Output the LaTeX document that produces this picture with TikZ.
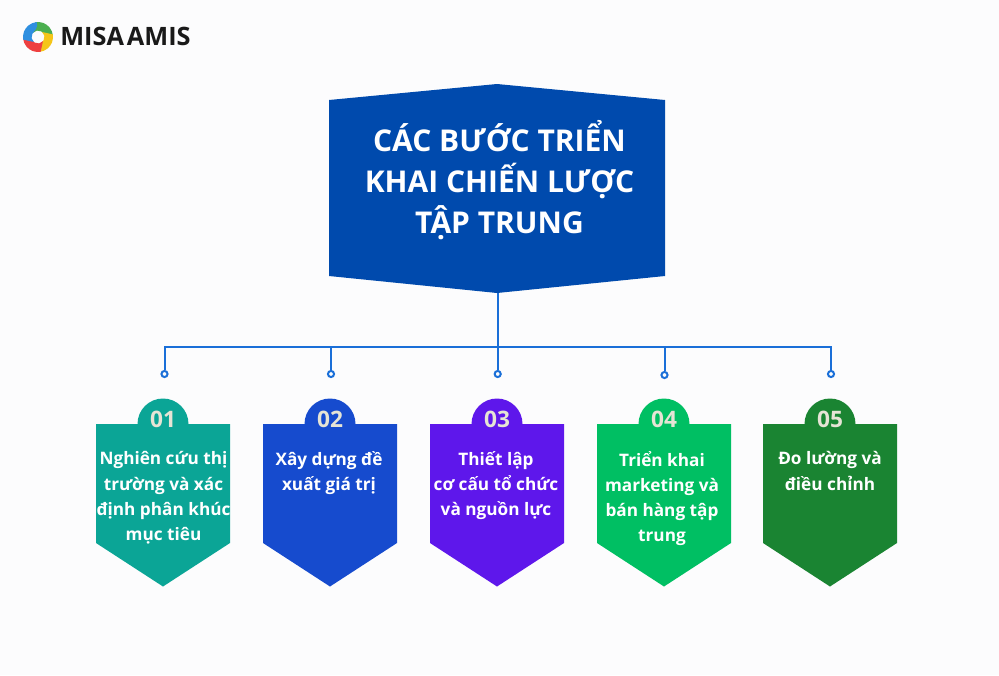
\documentclass[tikz,border=0pt]{standalone}
\usepackage{fontspec}
\setmainfont{Open Sans}
\usetikzlibrary{calc}
\definecolor{bgc}{HTML}{FCFCFD}
\definecolor{topc}{HTML}{004AAD}
\definecolor{linec}{HTML}{1A6FD8}
\definecolor{numc}{HTML}{E6E4D5}
\definecolor{ca}{HTML}{0BA596}
\definecolor{cb}{HTML}{164BCE}
\definecolor{cc}{HTML}{5E17EB}
\definecolor{cd}{HTML}{00BF63}
\definecolor{ce}{HTML}{1A8432}
\definecolor{lgreen}{HTML}{4CAF50}
\definecolor{lyellow}{HTML}{F5C518}
\definecolor{lred}{HTML}{EE4040}
\definecolor{lblue}{HTML}{2F8FE0}
\tikzset{
  x=0.75pt,y=-0.75pt,
  conn/.style={draw=linec,line width=1.5pt},
  dotn/.style={circle,draw=linec,line width=1.5pt,fill=bgc,minimum size=4.6pt,inner sep=0pt},
  titletext/.style={text=white,align=center,font=\fontsize{22.5pt}{30.7pt}\selectfont\bfseries},
  steptext/.style={text=white,align=center,anchor=north,inner sep=0pt,font=\fontsize{12.9pt}{18.8pt}\selectfont\bfseries},
  numtext/.style={text=numc,font=\fontsize{17pt}{18pt}\selectfont\bfseries},
}
% #1 centre x, #2 colour, #3 number, #4 text, #5 node id, #6 text centre x
\newcommand{\stepcard}[6]{%
  \fill[#2] (#1-67,424) -- (#1-25.5,424) arc[start angle=180,end angle=0,radius=19.125pt] -- (#1+67,424) -- (#1+67,543) -- (#1,586.5) -- (#1-67,543) -- cycle;
  \node[numtext] (num#5) at (#1,419.5) {#3};
  \node[steptext] (txt#5) at (#6,451.5) {#4};
}
\begin{document}
\begin{tikzpicture}
\useasboundingbox (0,0) rectangle (999,675);
\fill[bgc] (0,0) rectangle (999,675);
% logo
\begin{scope}[shift={(38,37)},x=0.75pt,y=0.75pt]
  \foreach \t/\c in {5/lgreen,-85/lyellow,-175/lred,95/lblue}{
    \fill[\c] (\t+95:15) arc[start angle=\t+95,end angle=\t,radius=15]
      .. controls (\t-10:10) and (\t+25:7) .. (\t+55:6.5)
      arc[start angle=\t+55,end angle=\t+135,radius=6.5] -- cycle;
  }
\end{scope}
\node[anchor=west,inner sep=0pt,font=\fontsize{19pt}{24pt}\selectfont\bfseries,text=black!90] (logotext) at (60,36.5) {MISA\hspace{2.2pt}AMIS};
% top shape
\fill[topc] (329,100) -- (497,84) -- (665,100) -- (665,276) -- (497,293) -- (329,276) -- cycle;
\coordinate (apex) at (498,293);
\node[titletext] (title) at (499.5,180.5) {CÁC BƯỚC TRIỂN\\KHAI CHIẾN LƯỢC\\TẬP TRUNG};
% cards
\stepcard{163}{ca}{01}{Nghiên cứu thị\\trường và xác\\định phân khúc\\mục tiêu}{a}{163.5}
\stepcard{330}{cb}{02}{Xây dựng đề\\xuất giá trị}{b}{329}
\stepcard{497}{cc}{03}{Thiết lập\\cơ cấu tổ chức\\và nguồn lực}{c}{496}
\stepcard{664}{cd}{04}{Triển khai\\marketing và\\bán hàng tập\\trung}{d}{662}
\stepcard{830}{ce}{05}{Đo lường và\\điều chỉnh}{e}{830}
% connectors
\coordinate (bus) at (498,346.5);
\node[dotn] (d1) at (164.5,374) {};
\node[dotn] (d2) at (331,374) {};
\node[dotn] (d3) at (497.7,374) {};
\node[dotn] (d4) at (664.5,375) {};
\node[dotn] (d5) at (831,374) {};
\draw[conn] (apex) -- (bus);
\draw[conn] (d1.north) -- (d1.north |- bus) -- (d5.north |- bus) -- (d5.north);
\draw[conn] (d2.north) -- (d2.north |- bus);
\draw[conn] (d3.north) -- (d3.north |- bus);
\draw[conn] (d4.north) -- (d4.north |- bus);
\end{tikzpicture}
\end{document}
